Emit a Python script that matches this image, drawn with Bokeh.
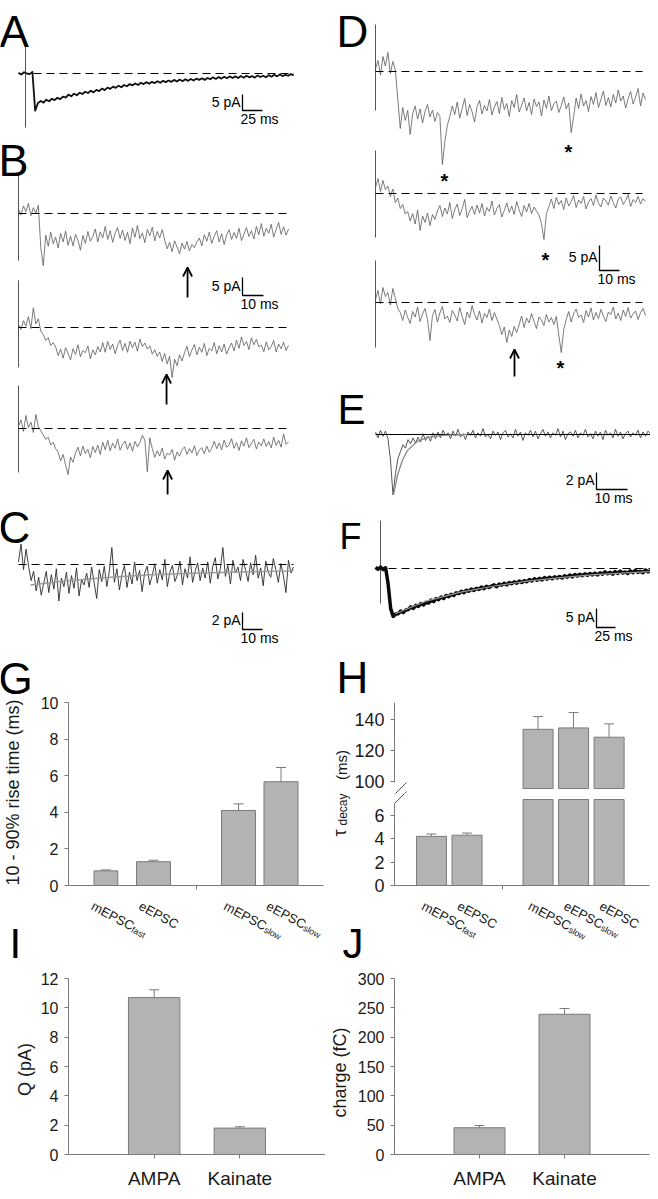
import numpy as np
from bokeh.plotting import figure
from bokeh.layouts import row, column
from bokeh.models import Range1d, Label, Arrow, OpenHead, FixedTicker
from bokeh.embed import file_html
from bokeh.resources import INLINE

FONT = "Liberation Sans"

# ============================ DATA ============================
# Traces: current (pA) sampled uniformly over the sweep duration (ms)
A_DUR = 344.0
A_TRACE = [0.2, -0.3, 0.4, 0.0, -0.2, 0.5, -11.6, -9.2,
           -8.6, -9.1, -8.2, -8.7, -7.9, -8.3, -7.6, -8.0, -7.2, -7.5,
           -6.6, -7.1, -6.3, -6.8, -6.0, -6.4, -5.7, -6.1, -5.4, -5.9, -5.1, -5.5,
           -4.7, -5.2, -4.4, -4.8, -4.1, -4.5, -3.8, -4.3, -3.6, -4.0, -3.3, -3.7,
           -3.1, -3.6, -2.9, -3.3, -2.7, -3.2, -2.6, -3.0, -2.4, -2.9, -2.3, -2.7,
           -2.2, -2.6, -2.0, -2.5, -1.9, -2.4, -1.8, -2.3, -1.7, -2.2, -1.6, -2.0,
           -1.5, -2.0, -1.4, -1.8, -1.2, -1.7, -1.1, -1.6, -1.0, -1.5, -0.9, -1.4,
           -0.9, -1.4, -0.8, -1.3, -0.7, -1.2, -0.8, -1.3, -0.6, -1.1, -0.7, -1.2,
           -0.5, -1.0, -0.4, -0.9, -0.3, -0.8, -0.4, -0.7, -0.2, -0.6]
A_STIM = [8.75, 10.3, -16.9]          # artefact time (ms), top (pA), bottom (pA)

B_DUR = 128.6
B1 = [1.2, -0.4, 2.1, 0.5, 2.8, -0.6, 1.6, 0.1, 2.3,
      -9.5, -14.5,
      -6.0, -9.1, -5.2, -8.4, -6.6, -9.6, -5.5, -7.9, -4.9, -8.8, -6.3, -9.0, -5.8, -7.4, -10.2, -6.1, -8.3, -5.0, -7.7, -6.4,
      -4.3, -7.9, -5.1, -6.8, -3.6, -7.2, -4.8, -8.0, -5.5, -3.9, -6.9, -4.6, -7.5, -5.2, -8.4, -4.0, -6.6, -3.3, -7.0, -5.4,
      -8.1, -4.4, -6.2, -3.8, -7.6, -5.0, -6.8, -4.5,
      -7.4, -9.8, -8.0, -10.6, -7.6, -9.3, -11.2, -8.2, -9.9, -7.8, -10.4, -8.6, -9.5, -7.9,
      -6.8, -9.0, -5.9, -7.7, -5.2, -8.3, -6.3, -4.8, -7.9, -5.6, -8.6, -6.0, -4.5, -7.2, -5.3, -6.9, -4.1, -7.5, -5.7, -3.9,
      -6.4, -4.8, -7.1,
      -3.6, -5.9, -2.8, -6.3, -4.1, -5.5, -3.0, -6.6, -4.4, -2.5, -5.8, -3.7, -6.0, -4.3]
B2 = [0.8, -0.5, 1.9, 0.4, 3.0, -0.3, 5.5, 1.0, 2.4, -1.0,
      -2.0, -3.6, -2.8, -5.0, -4.2,
      -5.4, -7.8, -6.0, -8.5, -5.6, -7.2, -9.0, -5.9, -7.5, -4.8, -8.1, -6.4, -7.0, -5.1, -8.7, -6.2, -7.6, -5.3, -6.8,
      -4.2, -6.9, -3.9, -6.1, -4.6, -7.3, -5.0, -3.5, -6.4, -4.4, -6.9, -3.8, -5.6, -4.1, -6.6, -3.2, -5.3, -4.3,
      -6.0, -5.1, -7.4, -6.2, -8.0, -6.8,
      -9.4, -7.2, -10.1, -8.0, -13.9, -8.8, -10.6, -7.6, -9.3,
      -7.0, -5.2, -8.1, -6.3, -4.7, -7.6, -5.5, -6.9, -4.4, -7.8, -5.8, -6.5, -4.2, -7.3, -5.1, -6.8, -4.6, -7.4, -5.7,
      -4.3, -6.5,
      -3.5, -5.8, -2.6, -5.0, -3.9, -6.1, -2.9, -4.8, -3.3, -5.4,
      -4.9, -6.7, -4.0, -6.2, -5.3, -3.6, -6.8, -4.6, -5.9, -4.1, -6.4, -5.0]
B3 = [0.6, 2.4, -0.8, 3.6, 0.2, 1.8, -1.1, 3.9, 0.5, -0.6,
      -1.8, -3.0, -2.4, -4.6, -3.8, -5.6,
      -6.6, -9.0, -7.2, -10.1, -12.8, -7.9, -9.4, -6.8,
      -5.2, -7.6, -4.9, -7.0, -5.8, -8.1, -5.0, -6.7, -4.6, -7.2,
      -3.8, -5.9, -3.3, -6.2, -4.1, -5.5, -2.9, -6.0, -4.4, -3.5, -5.8, -4.0, -6.3, -3.6, -5.1, -3.9,
      -1.9, -3.2, -12.0, -2.6,
      -5.6, -8.0, -6.2, -7.6, -5.4, -8.5, -6.9, -7.3, -5.8, -8.8, -6.5, -7.7, -5.9,
      -5.1, -7.2, -5.6, -6.8, -4.8, -7.5, -6.0, -5.3, -7.0, -4.9, -6.6, -5.5,
      -3.5, -5.6, -4.0, -5.9, -3.2, -5.2, -4.6, -2.8, -5.5, -3.9, -6.1, -3.4, -4.9, -2.6, -5.3, -4.1,
      -3.0, -5.7, -3.8, -4.8, -2.9, -5.0, -3.6, -5.4, -2.4, -4.7, -3.3, -5.2, -1.5, -4.4, -3.7]
B_STIM_TOP = [10.8, 13.1, 11.9]
B_STIM_BOT = [-13.1, -11.1, -12.2]
B_ARROW_T = [80.5, 70.5, 71.0]

C_DUR = 137.5
C_TRACE = [0.3, 2.4, -0.6, 1.8, -0.2,
           -1.9, -0.8, -3.1, -1.5, -3.6, -2.2,
           -0.8, -3.3, -1.2, -2.9, -0.5, -4.3, -1.6, -2.6, -0.9, -3.4, -1.3, -2.8, -0.4, -3.7, -1.8, -2.4, -1.0,
           -2.7, -0.3, -2.2, -4.0, -0.6, -2.0,
           -0.2, -2.6, -0.8, 2.0, -2.1, -0.5, -3.0, -1.2, -0.1, -2.7, -0.9, -2.3, 0.3, -1.9, -0.7, -3.2, -1.0, -0.2,
           -2.4, -1.3,
           0.1, -2.2, -0.6, -1.8, 0.6, -2.6, -0.9, -0.1, -2.0, -1.2, 0.4, -2.4, -0.5, -1.6, 0.9, -2.1, -0.8, 0.2, -1.9,
           -0.4,
           -1.6, 0.3, -2.2, -0.2, 0.8, -1.7, -0.5, 2.0, -1.4, -0.1, -2.3, 0.5, -1.0, -0.3, -1.9, 0.6, -0.7, -2.0, 0.2,
           -1.2, 1.1, -1.6, -0.4, -2.5, 0.4, -0.9, -1.5, 0.7, -0.6, -2.1, 0.1, -1.3, -3.3, 0.5, -1.0, -0.3]
C_FIT_T = [6, 21, 41, 66, 91, 116, 137.5]
C_FIT = [-2.4, -2.0, -1.6, -1.2, -1.0, -0.85, -0.75]

D_DUR = 135.0
D1 = [0.5, 2.2, -0.7, 3.0, 1.1, 3.8, -0.4, 2.0, 0.3,
      -5.5, -11.4,
      -7.2, -9.8, -7.8, -12.6, -8.4, -6.9, -9.5, -7.5, -10.3, -8.0, -6.6, -9.1, -7.7, -10.0, -8.2, -9.0,
      -18.6, -14.0, -10.8,
      -9.0, -6.9, -8.6, -6.1, -9.3, -7.4, -5.4, -8.8, -6.6, -8.1, -10.1, -7.0, -5.8, -8.5, -6.8, -7.9, -5.6, -8.7, -7.1,
      -6.0, -8.4, -5.2, -7.6, -6.4, -9.0, -5.8, -7.2, -4.6, -8.1, -6.7, -5.3, -7.9, -6.2, -8.6, -5.5, -7.0, -6.1, -8.9,
      -5.7, -7.4, -4.9, -7.8, -6.5, -5.9, -8.2, -6.8, -5.1, -7.5, -6.3,
      -12.2, -9.0,
      -5.3, -7.4, -4.5, -6.9, -5.8, -8.0, -5.0, -6.6, -4.2, -7.2, -5.6, -3.9, -6.8, -5.2, -7.1, -4.6, -6.3, -3.7, -5.9,
      -4.9, -7.3, -5.4, -4.0, -6.5, -5.1, -3.4, -6.9, -4.3, -5.6]
D2 = [1.2, 3.0, 0.4, 2.6, 0.8,
      1.5, -0.6, 0.9, -1.8, -0.9, -3.0, -2.2, -4.1,
      -3.6, -5.5, -4.0, -6.1, -3.3, -7.4, -4.5, -5.8, -3.9, -6.4, -4.2, -5.2, -3.5,
      -2.4, -4.6, -2.9, -4.1, -1.8, -5.0, -3.2, -2.1, -4.4, -3.0, -1.2, -4.8, -3.5, -2.6, -4.2, -2.3,
      -3.9, -2.0, -4.5, -2.8, -3.6, -1.5, -4.3, -3.0, -2.2, -4.7, -3.4, -1.9, -3.8, -2.5, -4.2, -1.6, -3.3, -4.6, -2.4,
      -3.7, -2.0, -4.0, -2.7, -3.5, -4.3,
      -6.0, -9.2, -4.0,
      -2.6, -1.1, -3.0, -0.8, -2.2, -1.4, -3.2, -0.9, -2.5, -1.6, -0.4, -2.8, -1.3, -2.0, -0.6, -3.1, -1.7, -1.0, -2.4,
      -0.3, -1.9, -2.7, -0.9, -1.5, -2.3, -0.5, -1.8, -2.9, -1.1, -0.7, -2.2, -1.4, -0.2, -2.6, -1.2, -1.8, -0.6, -2.1,
      -1.0, -1.6]
D3 = [0.6, 2.4, -0.3, 3.0, 1.2, 2.0, -0.5, 2.8, 0.9,
      -1.2,
      -2.0, -3.6, -1.5, -3.0, -4.2, -1.8, -2.9, -0.9, -3.8, -2.3, -1.2, -3.4, -7.6, -2.6, -1.4, -3.9, -2.1, -0.8, -3.3,
      -2.7, -4.0, -1.6, -2.5, -3.7, -1.0, -2.8, -4.4, -1.9, -3.1, -0.6, -2.4, -3.5, -1.7, -4.1, -2.2, -3.0, -1.3, -3.6,
      -2.0, -3.3,
      -4.6, -6.4, -4.9, -8.0, -5.5, -6.8, -4.8, -6.0,
      -4.4, -2.7, -5.0, -3.1, -4.1, -2.2, -3.8, -5.2, -2.9, -3.5, -4.6, -2.4, -3.9, -3.0, -4.4, -2.8,
      -6.5, -10.0, -5.4,
      -3.4, -1.8, -3.9, -2.2, -1.3, -3.0, -2.5, -4.0, -1.6, -2.9, -1.1, -3.5, -2.0, -3.2, -1.4, -2.7, -3.8, -1.9, -2.4,
      -0.9, -3.3, -2.1, -3.6, -1.5, -2.8, -1.0, -3.1, -2.3, -1.7, -3.4, -2.0, -1.2, -2.6]
D_STIM_TOP = [9.4, 8.6, 8.4]
D_STIM_BOT = [-7.8, -8.8, -9.0]
D_STAR_T = [[34.5, 96.5], [85.0], [92.5]]
D_ARROW_T = 69.5

E_DUR = 88.7
E_TRACE = [0.3, -0.4, 0.5, -0.2, 0.4, -0.5, -3.0, -7.1, -4.6, -2.8, -2.0, -1.2,
           -1.6, -0.6, -1.1, -0.4, -1.0, -0.3, -0.9, 0.1, -0.7, -0.2, -0.8, 0.2, -0.5,
           0.3, -0.4, 0.5, -0.1, 0.2, -0.5, 0.4, -0.2, 0.6, -0.3,
           0.1, -0.6, 0.3, -0.1, 0.5, -0.4, 0.2, -0.2, 0.7, -0.3,
           0.0, -0.5, 0.4, -0.1, 0.3, -0.6, 0.2, 0.5, -0.3, 0.1,
           -0.4, 0.6, -0.2, 0.3, -0.7, 0.2, -0.1, 0.5, -0.3, 0.4,
           -0.5, 0.1, 0.6, -0.2, 0.3, -0.4, 0.2, -0.1, 0.7, -0.3,
           0.4, -0.6, 0.1, 0.3, -0.2, 0.5, -0.4, 0.2, -0.1, 0.6,
           -0.3, 0.1, -0.5, 0.4, -0.2, 0.3, -0.6, 0.5, -0.1, 0.2,
           -0.4, 0.6, -0.2, 0.3, -0.5, 0.1, 0.4, -0.3, 0.2, -0.1,
           0.5, -0.4, 0.3, -0.2, 0.4, 0.1]
E_FIT_T = [5.8, 7.1, 8.7, 10.3, 13.5, 16.8, 21.6, 29.7]
E_FIT = [-7.1, -4.8, -3.0, -1.9, -0.8, -0.35, -0.1, 0.0]

F_DUR = 361.8
F_TRACE = [0.3, -0.2, 0.4, -0.3, 0.2, -4.0, -10.5, -12.6, -12.0,
           -11.9, -11.2, -11.6, -10.9,
           -10.8, -10.1, -10.5, -9.7, -10.0, -9.2, -9.6, -8.9,
           -9.1, -8.3, -8.7, -7.9, -8.2, -7.5, -7.9, -7.1, -7.4, -6.8, -7.1, -6.4, -6.6,
           -6.0, -6.4, -5.7, -6.0, -5.4, -5.8, -5.2, -5.5, -4.9, -5.3, -4.7, -5.0, -4.6,
           -4.3, -4.8, -4.1, -4.4, -3.9, -4.3, -3.7, -4.0, -3.5, -3.9, -3.3, -3.7, -3.2,
           -3.5, -2.9, -3.3, -2.7, -3.1, -2.6, -3.0, -2.4, -2.8, -2.3, -2.7, -2.2, -2.5,
           -2.1, -2.5, -1.9, -2.3, -1.7, -2.2, -1.6, -2.0, -1.5, -1.9, -1.4, -1.8, -1.3, -1.7,
           -1.2, -1.7, -1.1, -1.5, -0.9, -1.4, -1.0, -1.5, -0.8, -1.3, -0.7, -1.2, -0.9, -1.3,
           -0.6, -1.1, -0.5, -1.0, -0.7, -1.1, -0.4, -0.9, -0.6]
F_FIT_T = [26, 42, 68, 112, 157, 200, 243, 288, 361.8]
F_FIT = [-11.9, -10.6, -8.5, -6.2, -4.6, -3.3, -2.4, -1.6, -0.8]
F_STIM = [6.6, 12.6, -9.2]

# Bar charts
G_CATS = ["mEPSC", "eEPSC", "mEPSC", "eEPSC"]
G_SUBS = ["fast", "", "slow", "slow"]
G_POS = [0, 1, 3, 4]
G_VAL = [0.80, 1.30, 4.10, 5.67]
G_ERR = [0.05, 0.08, 0.36, 0.78]

H_CATS = ["mEPSC", "eEPSC", "mEPSC", "eEPSC", "eEPSC"]
H_SUBS = ["fast", "", "slow", "slow", ""]
H_POS = [0, 1, 3, 4, 5]
H_VAL = [4.2, 4.3, 133.7, 134.6, 128.6]
H_ERR = [0.2, 0.18, 8.2, 9.9, 8.6]

IJ_CATS = ["AMPA", "Kainate"]
IJ_POS = [1, 2]
I_VAL = [10.7, 1.8]
I_ERR = [0.53, 0.09]
J_VAL = [45.6, 239.0]
J_ERR = [3.8, 9.9]

# ============================ HELPERS ============================
BAR_FILL = "#b3b3b3"
BAR_LINE = "#7a7a7a"
AX_COL = "#7a7a7a"
TXT = "#1a1a1a"
BASELINE_FIX = 0.24   # alphabetic-baseline correction (fraction of font size)


def ident(r):
    return float(r)


def base_fig(w, h, xr, yr, **kw):
    p = figure(width=w, height=h, x_range=Range1d(*xr), y_range=Range1d(*yr),
               output_backend="svg", toolbar_location=None, frame_align=False, **kw)
    p.grid.visible = False
    p.outline_line_color = None
    return p


def strip(w, h, left, top, xr=None):
    """Blank panel whose frame fills the canvas; y in reference pixels."""
    return base_fig(w, h, xr if xr else (left, left + w), (top + h, top),
                    x_axis_location=None, y_axis_location=None, min_border=0)


def trace_panel(w, h, left, top, t0, base, pxms, pxpa):
    x0 = (left - t0) / pxms
    y1 = (base - top) / pxpa
    p = base_fig(w, h, (x0, x0 + w / pxms), (y1 - h / pxpa, y1),
                 x_axis_location=None, y_axis_location=None, min_border=0)

    def tx(r):
        return float((r - t0) / pxms)

    def ty(r):
        return float((base - r) / pxpa)
    return p, tx, ty


def draw_trace(p, dur, vals, color, width, offset=0.0):
    t = np.linspace(0, dur, len(vals))
    p.line(t, np.asarray(vals, dtype=float) + offset, line_color=color,
           line_width=width, line_join="round")


def dashed(p, t0, t1, y):
    p.line([t0, t1], [y, y], line_color="black", line_width=1.2, line_dash="8 5")


def stim(p, t, top, bot):
    p.line([t, t], [top, bot], line_color="#555555", line_width=1)


def letter(p, X, Y, ch, xr, yb, size):
    p.add_layout(Label(x=X(xr), y=Y(yb - BASELINE_FIX * size), text=ch, text_font=FONT,
                       text_font_size=f"{size}px", text_align="left",
                       text_baseline="alphabetic", text_color="black"))


def scale_bar(p, tx, ty, cx, cy, ms, pa, pxpa, ms_txt, pa_txt):
    t0, i0 = tx(cx), ty(cy)
    p.line([t0, t0, t0 + ms], [i0 + pa, i0, i0], line_color="black", line_width=1.3)
    p.add_layout(Label(x=tx(cx - 2), y=ty(cy - 0.55 * pa * pxpa), text=pa_txt,
                       text_align="right", text_baseline="middle",
                       text_font=FONT, text_font_size="14px", text_color="black"))
    p.add_layout(Label(x=tx(cx - 2), y=ty(cy), text=ms_txt,
                       text_align="left", text_baseline="top",
                       text_font=FONT, text_font_size="14px", text_color="black"))


def arrow_up(p, t, head_y, tail_y):
    p.add_layout(Arrow(end=OpenHead(size=9, line_width=1.8, line_color="black"),
                       x_start=t, y_start=tail_y, x_end=t, y_end=head_y,
                       line_width=1.8, line_color="black"))


def star(p, t, y):
    p.add_layout(Label(x=t, y=y, text="*", text_align="center",
                       text_baseline="alphabetic", text_font=FONT,
                       text_font_size="20px", text_font_style="bold",
                       text_color="black"))


def bar_panel(w, h, left, top, fl, fr, ft, fb, xr, yr, x_axis=True, y_ticks=None,
              x_ticks=None, tick_size="16px"):
    p = base_fig(w, h, xr, yr,
                 x_axis_location="below" if x_axis else None,
                 min_border_left=int(fl - left), min_border_right=int(left + w - fr),
                 min_border_top=int(ft - top), min_border_bottom=int(top + h - fb))
    for ax in p.yaxis:
        ax.ticker = FixedTicker(ticks=y_ticks)
        ax.axis_line_color = AX_COL
        ax.major_tick_line_color = AX_COL
        ax.major_tick_in = 0
        ax.major_tick_out = 4
        ax.minor_tick_line_color = None
        ax.major_label_text_font = FONT
        ax.major_label_text_font_size = tick_size
        ax.major_label_text_color = TXT
        ax.major_label_standoff = 6
    for ax in p.xaxis:
        ax.ticker = FixedTicker(ticks=x_ticks)
        ax.axis_line_color = AX_COL
        ax.major_tick_line_color = AX_COL
        ax.major_tick_in = 0
        ax.major_tick_out = 4
        ax.minor_tick_line_color = None
        ax.major_label_overrides = {t: "" for t in x_ticks}
        ax.major_label_text_font_size = "1px"
        ax.major_label_standoff = 0
    sx = (xr[1] - xr[0]) / (fr - fl)
    sy = (yr[1] - yr[0]) / (fb - ft)

    def X(r):
        return float(xr[0] + (r - fl) * sx)

    def Y(r):
        return float(yr[0] + (fb - r) * sy)
    return p, X, Y, sx


def bars(p, lefts, widths, bottoms, tops):
    lefts = np.asarray(lefts, dtype=float)
    p.quad(left=lefts, right=lefts + np.asarray(widths), bottom=bottoms, top=tops,
           fill_color=BAR_FILL, line_color=BAR_LINE, line_width=1)


def errbars(p, xs, vals, errs, cap_half):
    xs = np.asarray(xs, dtype=float)
    v = np.asarray(vals, dtype=float)
    hi = v + np.asarray(errs, dtype=float)
    p.segment(x0=xs, y0=v, x1=xs, y1=hi, line_color=BAR_LINE, line_width=1)
    p.segment(x0=xs - cap_half, y0=hi, x1=xs + cap_half, y1=hi,
              line_color=BAR_LINE, line_width=1)


CHAR_W = {"m": .833, "e": .556, "E": .667, "P": .667, "S": .667, "C": .722}


def cat_labels(p, centers, cats, subs, y0, dx, size=13, sub_size=9, angle=28, drop=5):
    a = np.deg2rad(angle)
    for c, name, sub in zip(centers, cats, subs):
        p.add_layout(Label(x=float(c), y=y0, x_offset=dx, y_offset=-2, text=name,
                           angle=-angle, angle_units="deg", text_align="left",
                           text_baseline="top", text_font=FONT,
                           text_font_size=f"{size}px", text_color=TXT))
        if sub:
            wpx = sum(CHAR_W[ch] for ch in name) * size
            ox = wpx * np.cos(a) - drop * np.sin(a)
            oy = wpx * np.sin(a) + drop * np.cos(a)
            p.add_layout(Label(x=float(c), y=y0, x_offset=float(dx + ox),
                               y_offset=float(-2 - oy), text=sub,
                               angle=-angle, angle_units="deg", text_align="left",
                               text_baseline="top", text_font=FONT,
                               text_font_size=f"{sub_size}px", text_color=TXT))


def vtitle(p, text, xr, yr, size, align="center"):
    p.add_layout(Label(x=float(xr), y=float(yr), text=text, angle=90, angle_units="deg",
                       text_align=align, text_baseline="middle", text_font=FONT,
                       text_font_size=f"{size}px", text_color=TXT))


W = 325

# ============================ A ============================
pA, tx, ty = trace_panel(W, 128, 0, 3, 18, 76, 0.8, 3.2)
stim(pA, A_STIM[0], A_STIM[1], A_STIM[2])
draw_trace(pA, A_DUR, A_TRACE, "#111111", 1.8)
dashed(pA, 18.75, A_DUR, 0)
scale_bar(pA, tx, ty, 242, 113, 25, 5, 3.2, "25 ms", "5 pA")
letter(pA, tx, ty, "A", -1, 45, 44)

# ============================ B ============================
pB, tx, ty = trace_panel(W, 368, 0, 131, 18, 216, 2.1, 3.6)
B_BASE_REF = [216, 330, 431]
B_HEAD_REF = [270, 377, 473]
B_TAIL_REF = [300, 407, 497]
for k, sw in enumerate([B1, B2, B3]):
    off = ty(B_BASE_REF[k])
    stim(pB, 0, B_STIM_TOP[k] + off, B_STIM_BOT[k] + off)
    draw_trace(pB, B_DUR, sw, "#5a5a5a", 0.8, off)
    dashed(pB, 0, 129.5, off)
    arrow_up(pB, B_ARROW_T[k], ty(B_HEAD_REF[k]), ty(B_TAIL_REF[k]))
scale_bar(pB, tx, ty, 242, 298, 10, 5, 3.6, "10 ms", "5 pA")
letter(pB, tx, ty, "B", -2, 174, 45)

# ============================ C ============================
pC, tx, ty = trace_panel(W, 151, 0, 499, 18, 567, 2.0, 8.5)
draw_trace(pC, C_DUR, C_TRACE, "#2b2b2b", 0.9)
pC.line(C_FIT_T, C_FIT, line_color="#9a9a9a", line_width=1.5)
dashed(pC, 0, C_DUR, 0)
scale_bar(pC, tx, ty, 242, 632, 10, 2, 8.5, "10 ms", "2 pA")
letter(pC, tx, ty, "C", -2, 541, 44)

# ============================ D ============================
pD, tx, ty = trace_panel(W, 379, 328, 3, 378, 74, 2.0, 5.0)
D_BASE_REF = [74, 196, 305]
D_STAR_REF = [[177, 148], [256], [364]]
for k, sw in enumerate([D1, D2, D3]):
    off = ty(D_BASE_REF[k])
    stim(pD, 0, D_STIM_TOP[k] + off, D_STIM_BOT[k] + off)
    draw_trace(pD, D_DUR, sw, "#5a5a5a", 0.8, off)
    dashed(pD, 0, 133.5, off)
    for t, yr in zip(D_STAR_T[k], D_STAR_REF[k]):
        star(pD, t, ty(yr + 11 - BASELINE_FIX * 20))
arrow_up(pD, D_ARROW_T, ty(352), ty(379))
scale_bar(pD, tx, ty, 602, 273, 10, 5, 5.0, "10 ms", "5 pA")
letter(pD, tx, ty, "D", 339, 45, 44)

# ============================ E ============================
pE, tx, ty = trace_panel(W, 128, 328, 382, 378, 437, 3.1, 8.5)
draw_trace(pE, E_DUR, E_TRACE, "#444444", 0.9)
pE.line([0, E_DUR], [0, 0], line_color="black", line_width=1)
pE.line(E_FIT_T, E_FIT, line_color="#8a8a8a", line_width=1.3)
scale_bar(pE, tx, ty, 599, 492, 10, 2, 8.5, "10 ms", "2 pA")
letter(pE, tx, ty, "E", 340, 422, 42)

# ============================ F ============================
pF, tx, ty = trace_panel(W, 138, 328, 510, 378, 571, 0.76, 3.8)
stim(pF, F_STIM[0], F_STIM[1], F_STIM[2])
draw_trace(pF, F_DUR, F_TRACE, "#0a0a0a", 3.5)
pF.line(F_FIT_T, F_FIT, line_color="#9a9a9a", line_width=1.2)
dashed(pF, 0, F_DUR, 0)
scale_bar(pF, tx, ty, 599, 630, 25, 5, 3.8, "25 ms", "5 pA")
letter(pF, tx, ty, "F", 342, 548, 36)

# ============================ G ============================
pG, XG, YG, sx = bar_panel(289, 249, 36, 650, 68, 323, 705, 888, (-1, 5), (0, 10),
                           y_ticks=[0, 2, 4, 6, 8, 10], x_ticks=[2])
G_W = [0.56, 0.8, 0.8, 0.8]
g_left = np.asarray(G_POS, dtype=float) - 0.4
g_ctr = g_left + np.asarray(G_W) / 2
bars(pG, g_left, G_W, 0, G_VAL)
errbars(pG, g_ctr, G_VAL, G_ERR, 5 * sx)
lsG = strip(36, 249, 0, 650)
vtitle(lsG, "10 - 90% rise time (ms)", 12, 795, 18)
letter(lsG, ident, ident, "G", -2, 692, 44)
# below G: panel letter I (left) and category labels (right)
ltI = strip(36, 71, 0, 899)
letter(ltI, ident, ident, "I", 9, 956, 42)
gsG = strip(289, 71, 36, 899, xr=(XG(36), XG(325)))
cat_labels(gsG, g_ctr, G_CATS, G_SUBS, 899.0, -10)

# ============================ I ============================
pI, XI, YI, sx = bar_panel(289, 198, 36, 970, 68, 325, 981, 1157, (0, 3), (0, 12),
                           y_ticks=[0, 2, 4, 6, 8, 10, 12], x_ticks=IJ_POS)
ij_left = np.asarray(IJ_POS, dtype=float) - 0.3
bars(pI, ij_left, [0.6, 0.6], 0, I_VAL)
errbars(pI, IJ_POS, I_VAL, I_ERR, 5 * sx)
lsI = strip(36, 198, 0, 970)
vtitle(lsI, "Q (pA)", 24, 1072, 18)
isI = strip(W, 26, 0, 1168, xr=(XI(0), XI(325)))
for pos, name in zip(IJ_POS, IJ_CATS):
    isI.add_layout(Label(x=pos, y=1181, text=name, text_align="center",
                         text_baseline="middle", text_font=FONT,
                         text_font_size="19px", text_color=TXT))

# ============================ H (broken axis) ============================
H_XR = (-1.04, 6.14)
BREAK_LO = 7.35
BREAK_HI = 95.5
h_left = np.asarray(H_POS, dtype=float) - 0.42
h_w = [0.845] * len(H_POS)
H_MARKS = [(397, 797, 409, 785), (397, 806, 409, 794)]

htH = strip(W, 57, 328, 648)
letter(htH, ident, ident, "H", 339, 691, 44)

pHt, XHt, YHt, sx = bar_panel(299, 91, 354, 705, 397, 652, 705, 796, H_XR,
                              (151.0 - 91 / 1.55, 151.0),
                              x_axis=False, y_ticks=[100, 120, 140], x_ticks=[2],
                              tick_size="18px")
pHt.yaxis.bounds = (99.4, 151.0)
hi_idx = [i for i, v in enumerate(H_VAL) if v > 50]
bars(pHt, h_left[hi_idx], [h_w[i] for i in hi_idx], BREAK_HI, [H_VAL[i] for i in hi_idx])
errbars(pHt, np.asarray(H_POS, dtype=float)[hi_idx], [H_VAL[i] for i in hi_idx],
        [H_ERR[i] for i in hi_idx], 5 * sx)

pHb, XH, YH, sx = bar_panel(299, 103, 354, 796, 397, 652, 796, 888, H_XR, (0, 92 / 11.7),
                            y_ticks=[0, 2, 4, 6], x_ticks=[2], tick_size="18px")
pHb.yaxis.bounds = (0, 7.0)
bars(pHb, h_left, h_w, 0, [min(v, BREAK_LO) for v in H_VAL])
lo_idx = [i for i, v in enumerate(H_VAL) if v <= 50]
errbars(pHb, np.asarray(H_POS, dtype=float)[lo_idx], [H_VAL[i] for i in lo_idx],
        [H_ERR[i] for i in lo_idx], 5 * sx)
# axis-break marks, drawn in both halves (each half clips its own part)
for (pp, XX, YY) in [(pHt, XHt, YHt), (pHb, XH, YH)]:
    for (xa, ya, xb, yb) in H_MARKS:
        pp.add_layout(Arrow(start=None, end=None, x_start=XX(xa), y_start=YY(ya),
                            x_end=XX(xb), y_end=YY(yb), line_color="#555555",
                            line_width=1))

lsH = strip(26, 194, 328, 705)
vtitle(lsH, "(ms)", 343.5, 767.5, 15)
lsH.add_layout(Label(x=342, y=839, text="τ", angle=90, angle_units="deg",
                     text_align="left", text_baseline="middle", text_font=FONT,
                     text_font_size="18px", text_color=TXT))
lsH.add_layout(Label(x=345.3, y=828, text="decay", angle=90, angle_units="deg",
                     text_align="left", text_baseline="middle", text_font=FONT,
                     text_font_size="12px", text_color=TXT))
# below H: panel letter J (left) and category labels (right)
ltJ = strip(44, 71, 328, 899)
letter(ltJ, ident, ident, "J", 345, 956, 42)
hsH = strip(281, 71, 372, 899, xr=(XH(372), XH(653)))
cat_labels(hsH, H_POS, H_CATS, H_SUBS, 899.0, -5)

# ============================ J ============================
pJ, XJ, YJ, sx = bar_panel(299, 198, 354, 970, 397, 652, 981, 1157, (0, 3), (0, 300),
                           y_ticks=[0, 50, 100, 150, 200, 250, 300], x_ticks=IJ_POS)
bars(pJ, ij_left, [0.6, 0.6], 0, J_VAL)
errbars(pJ, IJ_POS, J_VAL, J_ERR, 5 * sx)
lsJ = strip(26, 198, 328, 970)
vtitle(lsJ, "charge (fC)", 342.5, 1075, 18)
jsJ = strip(W, 26, 328, 1168, xr=(XJ(328), XJ(653)))
for pos, name in zip(IJ_POS, IJ_CATS):
    jsJ.add_layout(Label(x=pos, y=1181, text=name, text_align="center",
                         text_baseline="middle", text_font=FONT,
                         text_font_size="19px", text_color=TXT))

# ============================ LAYOUT ============================
left_col = column(pA, pB, pC, row(lsG, pG), row(ltI, gsG), row(lsI, pI), isI, spacing=0)
right_col = column(pD, pE, pF, htH, row(lsH, column(pHt, pHb, spacing=0)),
                   row(ltJ, hsH), row(lsJ, pJ), jsJ, spacing=0)
layout = row(left_col, right_col, spacing=0)

open("out.html", "w").write(file_html(layout, INLINE, title="EPSC figure"))
